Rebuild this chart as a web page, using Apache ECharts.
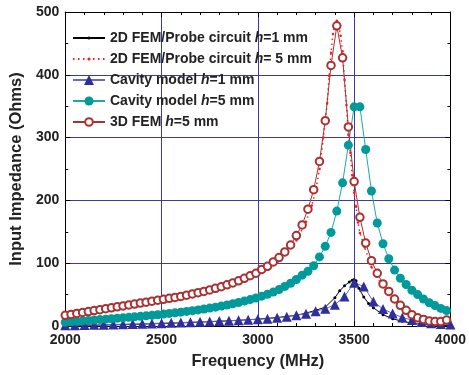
<!DOCTYPE html>
<html>
<head>
<meta charset="utf-8">
<script src="https://cdn.jsdelivr.net/npm/echarts@6/dist/echarts.min.js"></script>
<style>
  html, body { margin: 0; padding: 0; background: #fff; }
  #chart { width: 469px; height: 375px; }
</style>
</head>
<body>
<div id="chart"></div>
<script>
// 30 MHz grid used by the cavity model h=5 and the 3D FEM points
const freq30 = [2000, 2030, 2060, 2090, 2120, 2150, 2180, 2210, 2240, 2270,
  2300, 2330, 2360, 2390, 2420, 2450, 2480, 2510, 2540, 2570,
  2600, 2630, 2660, 2690, 2720, 2750, 2780, 2810, 2840, 2870,
  2900, 2930, 2960, 2990, 3020, 3050, 3080, 3110, 3140, 3170,
  3200, 3230, 3260, 3290, 3320, 3350, 3380, 3410, 3440, 3470,
  3500, 3530, 3560, 3590, 3620, 3650, 3680, 3710, 3740, 3770,
  3800, 3830, 3860, 3890, 3920, 3950, 3980];

const fem3d = [17, 18.5, 20, 21.5, 23, 24.5, 26, 27.5, 29, 30.5,
  32, 33.5, 35, 36.5, 38, 39.5, 41, 42.5, 44, 45.5,
  47, 49, 51, 53, 55, 57.5, 60, 62.5, 65.5, 68.5,
  72, 76, 80, 84, 90, 95, 102, 109, 118, 129,
  144, 161, 186, 217, 262, 327, 415, 478, 427, 317,
  230, 173, 132, 104, 84, 67, 55, 43, 33, 25,
  18, 13, 10.5, 8, 7, 7, 9.5];

const cavity5 = [6, 6.7, 7.4, 8.1, 8.8, 9.5, 10.2, 10.9, 11.6, 12.3,
  13, 13.8, 14.6, 15.4, 16.2, 17, 18, 19, 20, 21,
  22, 23.2, 24.4, 25.6, 27, 28.5, 30, 31.7, 33.5, 35.5,
  37.5, 39.7, 42, 44.5, 47.5, 50.5, 54, 58, 63, 68,
  74, 81, 87, 96, 110, 127, 149, 183, 228, 288,
  349, 349, 281, 215, 164, 131, 107, 89, 76, 66,
  57, 50, 43, 37, 32.5, 28, 24.5];

// 50 MHz grid for the cavity model h=1
const freq50 = [2000, 2050, 2100, 2150, 2200, 2250, 2300, 2350, 2400, 2450,
  2500, 2550, 2600, 2650, 2700, 2750, 2800, 2850, 2900, 2950,
  3000, 3050, 3100, 3150, 3200, 3250, 3300, 3350, 3400, 3450,
  3500, 3550, 3600, 3650, 3700, 3750, 3800, 3850, 3900, 3950, 4000];

const cavity1 = [1, 1.2, 1.5, 1.8, 2.1, 2.4, 2.8, 3.1, 3.5, 4,
  4.5, 5, 5.5, 6, 6.6, 7.2, 7.8, 8.5, 9.2, 9.9,
  10.6, 11.6, 13, 14.8, 17, 19.6, 23.5, 27.5, 34, 47,
  69, 63, 39, 27, 20, 13.5, 9.5, 6.5, 4.5, 3.3, 2.5];

// 2D FEM / probe circuit curves
const freqProbe1 = [2000, 2200, 2400, 2600, 2800, 2900, 3000, 3100, 3200, 3250,
  3300, 3350, 3400, 3425, 3450, 3475, 3490, 3500, 3510, 3525,
  3550, 3575, 3600, 3650, 3700, 3750, 3800, 3850, 3900, 3950, 4000];
const probe1 = [0.5, 1.5, 3, 5, 7.5, 9, 11, 13.5, 17, 20.5,
  25, 30, 45, 56, 64, 70, 73, 74, 72, 60,
  46, 36, 29, 18, 11.5, 7.5, 4.5, 2.5, 1.3, 0.7, 0.5];

const freqProbe5 = [2000, 2100, 2200, 2300, 2400, 2500, 2600, 2700, 2800, 2900,
  3000, 3050, 3100, 3150, 3200, 3250, 3280, 3300, 3320, 3340,
  3360, 3370, 3380, 3390, 3400, 3410, 3420, 3430, 3440, 3450,
  3460, 3470, 3480, 3490, 3500, 3510, 3520, 3530, 3555, 3590,
  3615, 3650, 3700, 3750, 3800, 3850, 3900, 3950, 4000];
const probe5 = [16, 20.5, 25.5, 30.5, 35.5, 40.5, 46, 52, 59, 69,
  82, 90, 101, 116, 136, 166, 192, 214, 250, 300,
  355, 398, 435, 465, 480, 486, 478, 462, 437, 392,
  352, 305, 276, 240, 212, 190, 165, 148, 125, 94,
  79, 62, 43, 29, 19, 12.5, 8.5, 6.5, 6];

const xTicks = [2000, 4000, 500];
const yTicks = [0, 500, 100];

const FONT = '"Liberation Sans", Arial, sans-serif';
const GRIDBLUE = '#3c3ca0';

function pairs(xs, ys) {
  return xs.map((x, i) => [x, ys[i]]);
}

const legendNames = {
  probe1: ['2D FEM/Probe circuit ', '=1 mm'],
  probe5: ['2D FEM/Probe circuit ', '= 5 mm'],
  cav1: ['Cavity model ', '=1 mm'],
  cav5: ['Cavity model ', '=5 mm'],
  fem: ['3D FEM ', '=5 mm']
};

// one legend per row so each row can have its own marker size
function legendRow(name, centerY, itemHeight) {
  return {
    data: [name],
    left: 72,
    top: centerY - 8,
    padding: 0,
    itemWidth: 32,
    itemHeight: itemHeight,
    formatter: n => legendNames[n][0] + '{i|h}' + legendNames[n][1],
    textStyle: {
      fontFamily: FONT,
      fontWeight: 'bold',
      fontSize: 14,
      color: '#222',
      rich: { i: { fontFamily: FONT, fontWeight: 'bold', fontStyle: 'italic', fontSize: 14, color: '#222' } }
    }
  };
}

function boxAxis(pos, ticks, minorSplit) {
  return {
    type: 'value',
    position: pos,
    min: ticks[0],
    max: ticks[1],
    interval: ticks[2],
    axisLine: { show: true, onZero: false, lineStyle: { color: '#000', width: 1 } },
    axisTick: { show: true, inside: true, length: 5, lineStyle: { color: '#000' } },
    minorTick: { show: true, splitNumber: minorSplit, length: 3, lineStyle: { color: '#000' } },
    axisLabel: { show: false },
    splitLine: { show: false }
  };
}

const option = {
  animation: false,
  backgroundColor: '#fff',
  textStyle: { fontFamily: FONT },
  grid: { left: 62, right: 12, top: 12, bottom: 45 },
  legend: [
    legendRow('probe1', 39, 4),
    legendRow('probe5', 60, 4),
    legendRow('cav1', 81, 12.5),
    legendRow('cav5', 102, 11.5),
    legendRow('fem', 123, 9.5)
  ],
  xAxis: [
    {
      type: 'value',
      min: xTicks[0],
      max: xTicks[1],
      interval: xTicks[2],
      name: 'Frequency (MHz)',
      nameLocation: 'middle',
      nameGap: 27,
      nameTextStyle: { fontFamily: FONT, fontWeight: 'bold', fontSize: 16.5, color: '#222' },
      axisLine: { onZero: false, lineStyle: { color: '#000', width: 1 } },
      axisTick: { inside: true, length: 5, lineStyle: { color: '#000' } },
      minorTick: { show: true, splitNumber: 5, length: 3, lineStyle: { color: '#000' } },
      axisLabel: { fontFamily: FONT, fontWeight: 'bold', fontSize: 14, color: '#222', margin: 7, formatter: v => String(v) },
      splitLine: { show: true, lineStyle: { color: GRIDBLUE, width: 1 } }
    },
    boxAxis('top', xTicks, 5)
  ],
  yAxis: [
    {
      type: 'value',
      min: yTicks[0],
      max: yTicks[1],
      interval: yTicks[2],
      name: 'Input Impedance (Ohms)',
      nameLocation: 'middle',
      nameGap: 35,
      nameTextStyle: { fontFamily: FONT, fontWeight: 'bold', fontSize: 16.5, color: '#222' },
      axisLine: { show: true, lineStyle: { color: '#000', width: 1 } },
      axisTick: { inside: true, length: 5, lineStyle: { color: '#000' } },
      minorTick: { show: true, splitNumber: 2, length: 3, lineStyle: { color: '#000' } },
      axisLabel: { fontFamily: FONT, fontWeight: 'bold', fontSize: 14, color: '#222', margin: 6 },
      splitLine: { show: true, lineStyle: { color: GRIDBLUE, width: 1 } }
    },
    boxAxis('right', yTicks, 2)
  ],
  series: [
    {
      name: 'probe1',
      type: 'line',
      data: pairs(freqProbe1, probe1),
      symbol: 'circle',
      symbolSize: 3,
      itemStyle: { color: '#000' },
      lineStyle: { color: '#000', width: 1 }
    },
    {
      name: 'probe5',
      type: 'line',
      data: pairs(freqProbe5, probe5),
      symbol: 'circle',
      symbolSize: 2.5,
      itemStyle: { color: '#ff1a1a' },
      lineStyle: { color: '#ff1a1a', width: 1.5, type: [1.5, 3.5] }
    },
    {
      name: 'cav1',
      type: 'line',
      data: pairs(freq50, cavity1),
      symbol: 'triangle',
      symbolSize: 10,
      itemStyle: { color: '#2e2e9c' },
      lineStyle: { color: '#6a6ac0', width: 1 }
    },
    {
      name: 'cav5',
      type: 'line',
      data: pairs(freq30, cavity5),
      symbol: 'circle',
      symbolSize: 9,
      itemStyle: { color: '#009a9a' },
      lineStyle: { color: '#20a8a8', width: 1 }
    },
    {
      name: 'fem',
      type: 'line',
      data: pairs(freq30, fem3d),
      symbol: 'emptyCircle',
      symbolSize: 7.5,
      itemStyle: { color: '#a83232', borderWidth: 1 },
      lineStyle: { color: '#a83232', width: 1 }
    }
  ]
};

const myChart = echarts.init(document.getElementById('chart'));
myChart.setOption(option);
</script>
</body>
</html>
